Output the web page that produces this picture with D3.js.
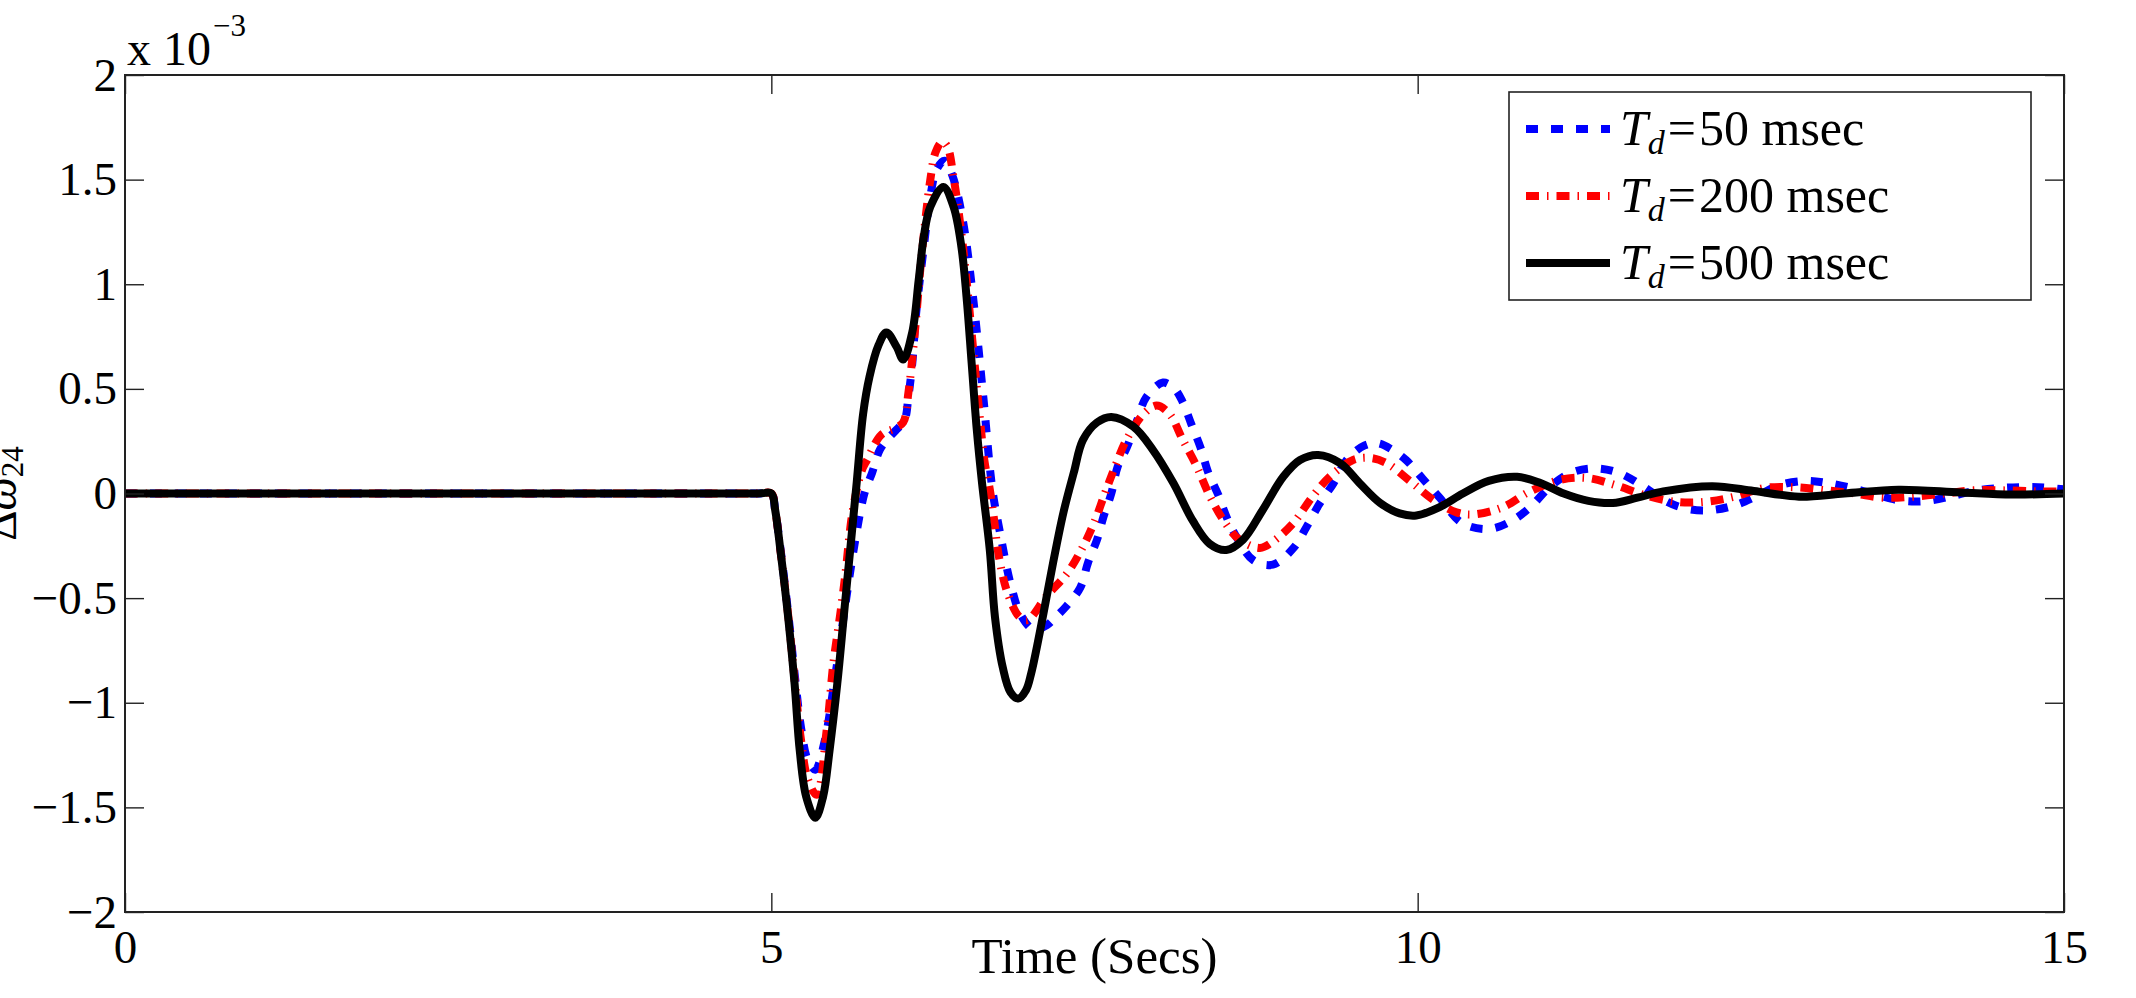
<!DOCTYPE html>
<html>
<head>
<meta charset="utf-8">
<script src="https://cdn.jsdelivr.net/npm/d3@7"></script>
<style>
  body { margin: 0; background: #fff; }
  svg { display: block; font-family: "Liberation Serif", "Times New Roman", "DejaVu Serif", serif; }
</style>
</head>
<body>
<div id="wrapper"></div>
<script>
// values in units of 1e-3, time in seconds
const xTicks = [0, 5, 10, 15];
const yTicks = [-2, -1.5, -1, -0.5, 0, 0.5, 1, 1.5, 2];
const legendDelays = ["50", "200", "500"];

const td50 = [
  [0, 0], [4.9, 0], [5.0, 0], [5.03, -0.08], [5.07, -0.26], [5.13, -0.57], [5.18, -0.86],
  [5.23, -1.12], [5.28, -1.27], [5.34, -1.32], [5.41, -1.19], [5.49, -0.89], [5.58, -0.5],
  [5.65, -0.22], [5.72, 0.0], [5.78, 0.1], [5.84, 0.21], [5.9, 0.26], [5.96, 0.3],
  [6.03, 0.35], [6.06, 0.46], [6.09, 0.62], [6.12, 0.86], [6.18, 1.18], [6.23, 1.42],
  [6.28, 1.55], [6.34, 1.59], [6.4, 1.52], [6.48, 1.31], [6.56, 0.94], [6.64, 0.46],
  [6.71, 0.02], [6.77, -0.19], [6.85, -0.43], [6.93, -0.58], [7.03, -0.65], [7.13, -0.63],
  [7.2, -0.59], [7.28, -0.54], [7.39, -0.45], [7.45, -0.33], [7.52, -0.22], [7.57, -0.11],
  [7.63, 0.0], [7.68, 0.13], [7.75, 0.22], [7.83, 0.35], [7.9, 0.46], [8.03, 0.53],
  [8.12, 0.5], [8.18, 0.44], [8.25, 0.33], [8.32, 0.22], [8.38, 0.1], [8.46, -0.01],
  [8.52, -0.11], [8.6, -0.21], [8.73, -0.32], [8.88, -0.34], [9.04, -0.26], [9.14, -0.16],
  [9.24, -0.05], [9.35, 0.05], [9.45, 0.16], [9.59, 0.23], [9.69, 0.24], [9.8, 0.21],
  [9.91, 0.16], [10.04, 0.07], [10.17, -0.02], [10.34, -0.14], [10.55, -0.17], [10.73, -0.13],
  [10.88, -0.06], [11.02, 0.03], [11.19, 0.1], [11.37, 0.12], [11.55, 0.1], [11.73, 0.04],
  [11.9, -0.03], [12.06, -0.07], [12.26, -0.08], [12.46, -0.055], [12.63, -0.01], [12.8, 0.04],
  [13.0, 0.06], [13.17, 0.05], [13.37, 0.025], [13.57, -0.01], [13.75, -0.035], [13.95, -0.035],
  [14.15, -0.01], [14.33, 0.015], [14.55, 0.028], [14.8, 0.03], [15, 0.02]
];

const td200 = [
  [0, 0], [4.9, 0], [5.0, 0], [5.03, -0.08], [5.07, -0.27], [5.13, -0.58], [5.18, -0.89],
  [5.23, -1.18], [5.28, -1.36], [5.35, -1.44], [5.43, -1.12], [5.48, -0.81], [5.53, -0.59],
  [5.57, -0.4], [5.63, -0.08], [5.7, 0.11], [5.74, 0.16], [5.85, 0.28], [5.95, 0.31],
  [6.02, 0.34], [6.06, 0.48], [6.11, 0.77], [6.16, 1.12], [6.23, 1.5], [6.27, 1.63],
  [6.32, 1.68], [6.36, 1.66], [6.41, 1.51], [6.47, 1.245], [6.51, 1.02], [6.56, 0.7],
  [6.61, 0.38], [6.65, 0.15], [6.69, 0.02], [6.72, -0.11], [6.76, -0.3], [6.83, -0.48],
  [6.92, -0.59], [6.98, -0.605], [7.13, -0.49], [7.29, -0.38], [7.41, -0.255], [7.5, -0.135],
  [7.58, 0.0], [7.66, 0.13], [7.75, 0.26], [7.88, 0.38], [7.98, 0.42], [8.08, 0.38],
  [8.18, 0.26], [8.29, 0.13], [8.39, -0.01], [8.5, -0.13], [8.62, -0.22], [8.78, -0.26],
  [8.88, -0.23], [9.04, -0.14], [9.18, -0.02], [9.32, 0.08], [9.5, 0.16], [9.63, 0.17],
  [9.76, 0.145], [9.94, 0.06], [10.12, -0.03], [10.3, -0.09], [10.43, -0.1], [10.66, -0.065],
  [10.86, 0.007], [11.1, 0.065], [11.31, 0.074], [11.53, 0.04], [11.75, -0.007], [12.0, -0.04],
  [12.22, -0.04], [12.44, -0.017], [12.68, 0.026], [12.92, 0.03], [13.14, 0.017], [13.38, 0.0],
  [13.6, -0.02], [13.84, -0.015], [14.08, 0.0], [14.3, 0.015], [14.53, 0.015], [14.8, 0.01], [15, 0.01]
];

const td500 = [
  [0, 0], [4.9, 0], [5.0, 0], [5.03, -0.08], [5.07, -0.27], [5.13, -0.59], [5.18, -0.91],
  [5.22, -1.23], [5.27, -1.45], [5.34, -1.55], [5.4, -1.45], [5.45, -1.23], [5.51, -0.91],
  [5.56, -0.59], [5.61, -0.27], [5.66, 0.05], [5.71, 0.38], [5.76, 0.56], [5.83, 0.71],
  [5.89, 0.77], [5.97, 0.7], [6.02, 0.64], [6.09, 0.77], [6.14, 1.02], [6.18, 1.23],
  [6.23, 1.37], [6.33, 1.465], [6.41, 1.37], [6.47, 1.18], [6.51, 0.94], [6.55, 0.62],
  [6.59, 0.3], [6.63, 0.05], [6.69, -0.27], [6.73, -0.59], [6.79, -0.83], [6.85, -0.95],
  [6.91, -0.98], [6.97, -0.94], [7.01, -0.86], [7.1, -0.59], [7.18, -0.33], [7.26, -0.09],
  [7.34, 0.1], [7.41, 0.255], [7.52, 0.34], [7.63, 0.366], [7.8, 0.32], [7.95, 0.21],
  [8.11, 0.05], [8.26, -0.13], [8.39, -0.24], [8.52, -0.27], [8.65, -0.22], [8.8, -0.08],
  [8.96, 0.08], [9.09, 0.16], [9.23, 0.184], [9.4, 0.145], [9.55, 0.05], [9.71, -0.045],
  [9.86, -0.095], [9.99, -0.105], [10.17, -0.065], [10.35, 0.0], [10.55, 0.06], [10.77, 0.08],
  [10.95, 0.05], [11.13, 0.0], [11.32, -0.035], [11.51, -0.045], [11.7, -0.02], [11.9, 0.01],
  [12.28, 0.035], [12.6, 0.012], [12.95, -0.015], [13.3, 0.0], [13.72, 0.018], [14.2, 0.005],
  [14.6, -0.005], [15, 0]
];

function drawChart() {
  //* Step 1. Accessors
  const xAccessor = (d) => d[0];
  const yAccessor = (d) => d[1];

  //* Step 2. Dimensions
  let dimensions = {
    width: 2136,
    height: 998,
    margin: { top: 75, right: 72, bottom: 86, left: 125 },
  };
  dimensions.boundedWidth =
    dimensions.width - dimensions.margin.left - dimensions.margin.right;
  dimensions.boundedHeight =
    dimensions.height - dimensions.margin.top - dimensions.margin.bottom;

  //* Step 3. Canvas
  const wrapper = d3
    .select("#wrapper")
    .append("svg")
    .attr("width", dimensions.width)
    .attr("height", dimensions.height);

  const bounds = wrapper
    .append("g")
    .attr("transform", `translate(${dimensions.margin.left},${dimensions.margin.top})`);

  bounds.append("defs").append("clipPath").attr("id", "plot-clip")
    .append("rect")
    .attr("width", dimensions.boundedWidth)
    .attr("height", dimensions.boundedHeight);

  //* Step 4. Scales
  const xScale = d3.scaleLinear().domain([0, 15]).range([0, dimensions.boundedWidth]);
  const yScale = d3.scaleLinear().domain([-2, 2]).range([dimensions.boundedHeight, 0]);

  //* Step 5. Data
  const lineGenerator = d3
    .line()
    .x((d) => xScale(xAccessor(d)))
    .y((d) => yScale(yAccessor(d)))
    .curve(d3.curveCatmullRom.alpha(0.5));

  const series = [
    { data: td50, color: "#0000ff", dash: "12,13" },
    { data: td200, color: "#ff0000", dash: "13,8,1.5,8" },
    { data: td500, color: "#000000", dash: null },
  ];

  const lines = bounds.append("g").attr("clip-path", "url(#plot-clip)");
  series.forEach((s) => {
    lines
      .append("path")
      .attr("d", lineGenerator(s.data))
      .attr("fill", "none")
      .attr("stroke", s.color)
      .attr("stroke-width", 8)
      .attr("stroke-linejoin", "round")
      .attr("stroke-dasharray", s.dash);
  });

  //* Step 6. Peripherals
  const tickLen = 19;
  const fmt = d3.format("");

  const yAxis = bounds.append("g")
    .call(d3.axisLeft(yScale).tickValues(yTicks).tickFormat(fmt).tickSizeInner(-tickLen).tickSizeOuter(0).tickPadding(8));
  const yAxisRight = bounds.append("g")
    .attr("transform", `translate(${dimensions.boundedWidth},0)`)
    .call(d3.axisRight(yScale).tickValues(yTicks).tickFormat("").tickSizeInner(-tickLen).tickSizeOuter(0));
  const xAxis = bounds.append("g")
    .attr("transform", `translate(0,${dimensions.boundedHeight})`)
    .call(d3.axisBottom(xScale).tickValues(xTicks).tickFormat(fmt).tickSizeInner(-tickLen).tickSizeOuter(0).tickPadding(18));
  const xAxisTop = bounds.append("g")
    .call(d3.axisTop(xScale).tickValues(xTicks).tickFormat("").tickSizeInner(-tickLen).tickSizeOuter(0));

  [yAxis, yAxisRight, xAxis, xAxisTop].forEach((a) => {
    a.attr("font-family", null);
    a.select(".domain").remove();
    a.selectAll(".tick line").attr("stroke", "#222").attr("stroke-width", 1.4);
    a.selectAll(".tick text")
      .attr("fill", "#000")
      .style("font-family", "'Liberation Serif', 'Times New Roman', serif")
      .style("font-size", "47px");
  });

  bounds.append("rect")
    .attr("width", dimensions.boundedWidth)
    .attr("height", dimensions.boundedHeight)
    .attr("fill", "none")
    .attr("stroke", "#222")
    .attr("stroke-width", 2);

  // exponent label
  const expLabel = bounds.append("text")
    .attr("x", 2)
    .attr("y", -10)
    .style("font-size", "48px");
  expLabel.append("tspan").text("x 10");
  expLabel.append("tspan").attr("dy", -29).attr("dx", 2).style("font-size", "31px").text("\u22123");

  // x label
  bounds.append("text")
    .attr("x", dimensions.boundedWidth / 2)
    .attr("y", dimensions.boundedHeight + 61)
    .attr("text-anchor", "middle")
    .style("font-size", "51px")
    .text("Time (Secs)");

  // y label
  const yLabel = wrapper.append("text")
    .attr("transform", `translate(16,${dimensions.margin.top + yScale(0)}) rotate(-90)`)
    .attr("text-anchor", "middle")
    .style("font-size", "47px");
  yLabel.append("tspan").text("\u0394");
  yLabel.append("tspan").style("font-style", "italic").text("\u03c9");
  yLabel.append("tspan").attr("dy", 7).style("font-size", "31px").text("24");

  //* Step 7. Legend
  const legend = wrapper.append("g").attr("transform", "translate(1509,92)");
  legend.append("rect")
    .attr("width", 522)
    .attr("height", 208)
    .attr("fill", "#fff")
    .attr("stroke", "#222")
    .attr("stroke-width", 1.6);

  series.forEach((s, i) => {
    const row = legend.append("g").attr("transform", `translate(0,${37 + i * 67})`);
    row.append("line")
      .attr("x1", 17).attr("x2", 101)
      .attr("stroke", s.color)
      .attr("stroke-width", 8)
      .attr("stroke-dasharray", s.dash);
    const t = row.append("text")
      .attr("x", 111)
      .attr("y", 16)
      .style("font-size", "50px");
    t.append("tspan").style("font-style", "italic").text("T");
    t.append("tspan").attr("dy", 9).style("font-style", "italic").style("font-size", "34px").text("d");
    t.append("tspan").attr("dy", -9).attr("dx", 3).text("=");
    t.append("tspan").attr("dx", 3).text(`${legendDelays[i]} msec`);
  });
}
drawChart();
</script>
</body>
</html>
